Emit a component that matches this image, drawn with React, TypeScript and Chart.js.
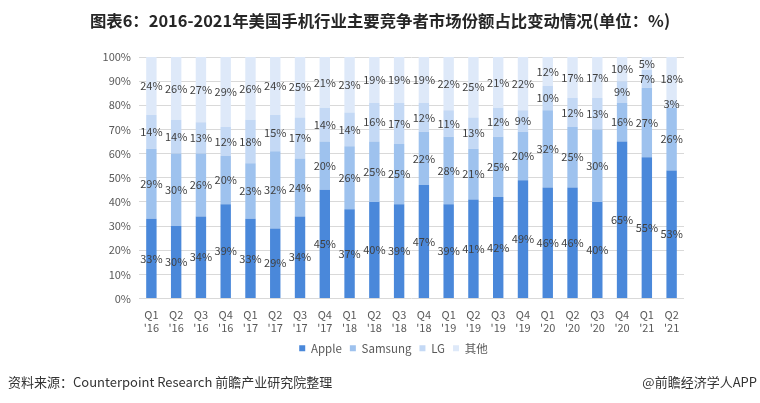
import React, { useEffect, useRef } from "react";
import { Chart, registerables } from "chart.js";

Chart.register(...registerables);

const quarters = ["Q1", "Q2", "Q3", "Q4", "Q1", "Q2", "Q3", "Q4", "Q1", "Q2", "Q3", "Q4", "Q1", "Q2", "Q3", "Q4", "Q1", "Q2", "Q3", "Q4", "Q1", "Q2"];
const years = ["'16", "'16", "'16", "'16", "'17", "'17", "'17", "'17", "'18", "'18", "'18", "'18", "'19", "'19", "'19", "'19", "'20", "'20", "'20", "'20", "'21", "'21"];

const apple = [33, 30, 34, 39, 33, 29, 34, 45, 37, 40, 39, 47, 39, 41, 42, 49, 46, 46, 40, 65, 55, 53];
const samsung = [29, 30, 26, 20, 23, 32, 24, 20, 26, 25, 25, 22, 28, 21, 25, 20, 32, 25, 30, 16, 27, 26];
const lg = [14, 14, 13, 12, 18, 15, 17, 14, 14, 16, 17, 12, 11, 13, 12, 9, 10, 12, 13, 9, 7, 3];
const others = [24, 26, 27, 29, 26, 24, 25, 21, 23, 19, 19, 19, 22, 25, 21, 22, 12, 17, 17, 10, 5, 18];

const seriesNames = ["Apple", "Samsung", "LG", "其他"];
const seriesColors = ["#4a88da", "#9ec2ee", "#c4d9f5", "#dee9f9"];
const yTicks = [0, 10, 20, 30, 40, 50, 60, 70, 80, 90, 100];

const FONT = "'Noto Sans CJK SC', 'Noto Sans', sans-serif";

export default function App() {
  const ref = useRef<HTMLCanvasElement | null>(null);

  useEffect(() => {
    if (!ref.current) return;
    const raw = [apple, samsung, lg, others];
    const totals = apple.map((_, i) => raw.reduce((s, arr) => s + arr[i], 0));
    const labelPlugin = {
      id: "segLabels",
      afterDatasetsDraw(chart: any) {
        const ctx = chart.ctx;
        ctx.save();
        ctx.font = `11px ${FONT}`;
        ctx.fillStyle = "#404040";
        ctx.textAlign = "center";
        ctx.textBaseline = "middle";
        chart.data.datasets.forEach((_: any, di: number) => {
          const meta = chart.getDatasetMeta(di);
          meta.data.forEach((bar: any, i: number) => {
            const p = bar.getProps(["x", "y", "base"], true);
            ctx.fillText(raw[di][i] + "%", p.x, (p.y + p.base) / 2);
          });
        });
        ctx.restore();
      },
    };
    const chart = new Chart(ref.current, {
      type: "bar",
      data: {
        labels: quarters.map((q, i) => [q, years[i]]),
        datasets: raw.map((arr, di) => ({
          label: seriesNames[di],
          data: arr.map((v, i) => (v / totals[i]) * 100),
          backgroundColor: seriesColors[di],
          borderWidth: 0,
          barPercentage: 0.42,
          categoryPercentage: 1,
        })),
      },
      options: {
        responsive: false,
        animation: false,
        devicePixelRatio: 1,
        layout: { padding: { left: 103, right: 76, top: 57, bottom: 39 } },
        plugins: {
          tooltip: { enabled: false },
          legend: {
            position: "bottom",
            labels: {
              boxWidth: 6,
              boxHeight: 6,
              padding: 8,
              color: "#595959",
              font: { size: 11.5, family: FONT },
            },
          },
        },
        scales: {
          x: {
            stacked: true,
            grid: { display: false },
            border: { display: false },
            ticks: {
              color: "#595959",
              font: { size: 11, family: FONT, lineHeight: 1.25 },
              padding: 1,
              maxRotation: 0,
              autoSkip: false,
            },
            afterFit: (s: any) => {
              s.height = 36;
            },
          },
          y: {
            stacked: true,
            min: 0,
            max: 100,
            afterBuildTicks: (s: any) => {
              s.ticks = yTicks.map((v) => ({ value: v }));
            },
            grid: { color: "#d9d9d9", drawTicks: false },
            border: { display: false },
            ticks: {
              color: "#595959",
              font: { size: 11, family: FONT },
              padding: 8,
              callback: (v: any) => v + "%",
            },
            afterFit: (s: any) => {
              s.width = 36;
            },
          },
        },
      },
      plugins: [labelPlugin],
    });
    return () => chart.destroy();
  }, []);

  return (
    <div style={{ position: "absolute", left: 0, top: 0, width: 760, height: 403, background: "#fff", overflow: "hidden" }}>
      <canvas ref={ref} width={760} height={403} style={{ position: "absolute", left: 0, top: 0, width: 760, height: 403 }} />
      <div
        style={{
          position: "absolute",
          left: 0,
          top: 8,
          width: 760,
          textAlign: "center",
          fontFamily: FONT,
          fontWeight: 700,
          fontSize: 16.4,
          lineHeight: "24px",
          color: "#262626",
        }}
      >
        图表6：2016-2021年美国手机行业主要竞争者市场份额占比变动情况(单位：%)
      </div>
      <div
        style={{
          position: "absolute",
          left: 8,
          top: 374,
          fontFamily: FONT,
          fontSize: 13,
          lineHeight: "16px",
          color: "#333",
          whiteSpace: "nowrap",
        }}
      >
        资料来源：Counterpoint Research 前瞻产业研究院整理
      </div>
      <div
        style={{
          position: "absolute",
          right: 3,
          top: 374,
          fontFamily: FONT,
          fontSize: 13,
          lineHeight: "16px",
          color: "#333",
          whiteSpace: "nowrap",
        }}
      >
        @前瞻经济学人APP
      </div>
    </div>
  );
}
